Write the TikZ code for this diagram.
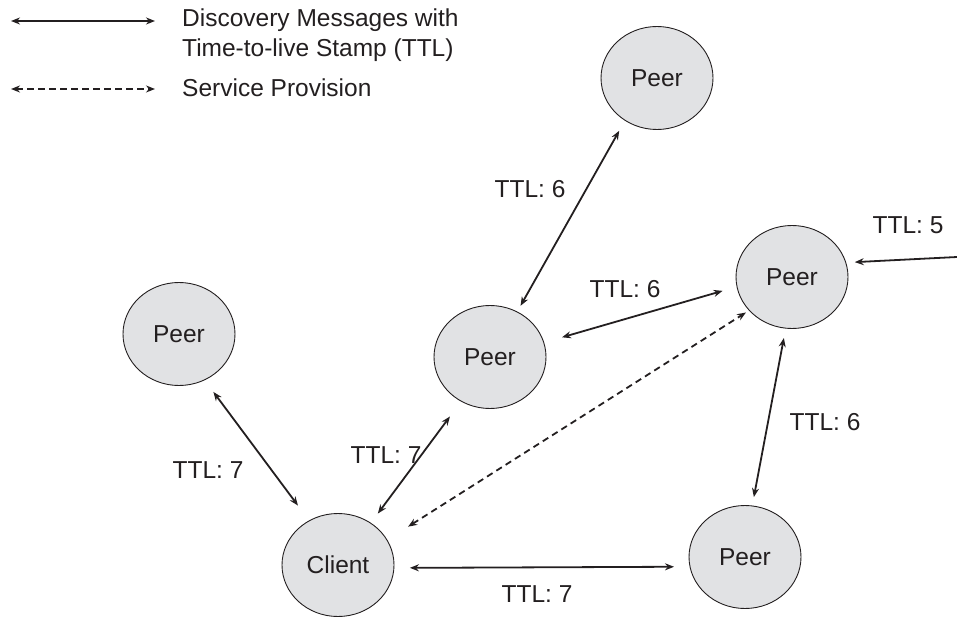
\documentclass[tikz,border=0pt]{standalone}
\usepackage{fontspec}
\setmainfont{Liberation Sans}
\usetikzlibrary{shapes.geometric,arrows.meta}
\definecolor{ink}{RGB}{35,31,32}
\definecolor{peergray}{RGB}{225,226,228}
\begin{document}
\begin{tikzpicture}[x=1pt,y=-1pt,
    >={Stealth[length=9pt,width=7pt]},
    every node/.style={font=\fontsize{24.5}{30}\selectfont, text=ink},
    peer/.style={ellipse, draw=ink, line width=0.9pt, fill=peergray,
        minimum width=112pt, minimum height=103pt, inner sep=0pt, outer sep=0pt},
    ttl/.style={inner sep=0pt},
    legendtext/.style={anchor=base west, inner sep=0pt},
    msg/.style={<->, line width=1.8pt, draw=ink},
    prov/.style={msg, dash pattern=on 6.5pt off 4.5pt}]
    \useasboundingbox (0,0) rectangle (957,617);

    \node[peer] (L) at (179,334) {Peer};
    \node[peer] (C) at (338,565) {Client};
    \node[peer] (M) at (490,357) {Peer};
    \node[peer] (T) at (657,78) {Peer};
    \node[peer] (R) at (792,277) {Peer};
    \node[peer] (B) at (745,557) {Peer};

    \draw[msg, shorten <=15pt, shorten >=19pt] (L.-61) -- (C.123);
    \draw[msg, shorten <=12pt, shorten >=19pt] (C.52) -- (M.237);
    \draw[msg, shorten <=7pt, shorten >=12pt] (M.59) -- (T.233);
    \draw[msg, shorten <=19pt, shorten >=15pt] (M.15) -- (R.190);
    \draw[prov, shorten <=25pt, shorten >=4pt] (C.27) -- (R.218);
    \draw[msg, shorten <=10pt, shorten >=9pt] (R.263) -- (B.82);
    \draw[msg, shorten <=16pt, shorten >=16pt] (C.-3) -- (B.190);
    \coordinate (in5) at (957,257);
    \draw[msg, <-, shorten <=9pt] (R.15) -- (in5);

    \node[ttl] (t1) at (208,470) {TTL: 7};
    \node[ttl] (t2) at (386,455) {TTL: 7};
    \node[ttl] (t3) at (530,189) {TTL: 6};
    \node[ttl] (t4) at (625,289) {TTL: 6};
    \node[ttl] (t5) at (908,225) {TTL: 5};
    \node[ttl] (t6) at (825,422) {TTL: 6};
    \node[ttl] (t7) at (537,594) {TTL: 7};

    \coordinate (k1a) at (11,21);
    \coordinate (k1b) at (155,21);
    \draw[msg] (k1a) -- (k1b);
    \coordinate (k2a) at (11,89);
    \coordinate (k2b) at (155,89);
    \draw[prov] (k2a) -- (k2b);
    \node[legendtext] (d1) at (182,27) {Discovery Messages with};
    \node[legendtext] (d2) at (182,57) {Time-to-live Stamp (TTL)};
    \node[legendtext] (d3) at (182,97) {Service Provision};
\end{tikzpicture}
\end{document}
